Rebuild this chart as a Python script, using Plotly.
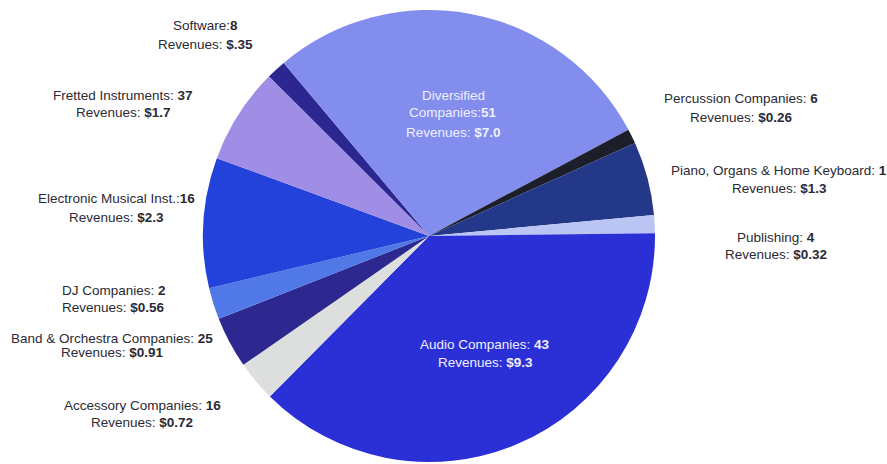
import plotly.graph_objects as go

# Music products industry: company counts and revenues ($ billions) by segment,
# listed clockwise starting from the small "Software" slice at the top-left.
segments = [
    "Software", "Diversified Companies", "Percussion Companies",
    "Piano, Organs & Home Keyboard", "Publishing", "Audio Companies",
    "Accessory Companies", "Band & Orchestra Companies", "DJ Companies",
    "Electronic Musical Inst.", "Fretted Instruments",
]
companies = [8, 51, 6, 1, 4, 43, 16, 25, 2, 16, 37]
revenues = [0.35, 7.0, 0.26, 1.3, 0.32, 9.3, 0.72, 0.91, 0.56, 2.3, 1.7]

# Text shown before the company count (wording/punctuation per segment)
count_prefix = [
    "Software:", "Diversified<br>Companies:", "Percussion Companies: ",
    "Piano, Organs & Home Keyboard: ", "Publishing: ", "Audio Companies: ",
    "Accessory Companies: ", "Band & Orchestra Companies: ", "DJ Companies: ",
    "Electronic Musical Inst.:", "Fretted Instruments: ",
]

colors = [
    "#2C2690", "#838DED", "#1C1E2A", "#233888", "#BAC5F3", "#2A2FD6",
    "#DCDFDD", "#2D2890", "#5078E6", "#2342DA", "#A08DE6",
]

W, H = 887, 464
cx, cy, r = 429, 236, 226

# Label placement: centre x and the y of each text line (pixels)
label_x = [205, 453, 741, 779, 776, 485, 142, 112, 114, 117, 123]
label_ys = [
    [26, 45], [95, 113, 132], [98, 117], [170, 188], [237, 255],
    [344, 362], [405, 422], [338, 352], [290, 307], [198, 217], [96, 112],
]
inside = {1, 5}


def money(v):
    s = f"{v:.2f}" if v < 1 else f"{v:.1f}"
    if v < 1 and len(s) > 3 and s.endswith("5"):
        s = s.lstrip("0")
    return "$" + s


fig = go.Figure(
    go.Pie(
        labels=segments,
        values=revenues,
        marker=dict(colors=colors, line=dict(width=0)),
        sort=False,
        direction="clockwise",
        rotation=-45.1,
        textinfo="none",
        hoverinfo="label+value",
        showlegend=False,
        domain=dict(x=[(cx - r) / W, (cx + r) / W],
                    y=[(H - cy - r) / H, (H - cy + r) / H]),
    )
)

annotations = []
for i, name in enumerate(segments):
    parts = count_prefix[i].split("<br>")
    lines = parts[:-1] + [f"{parts[-1]}<b>{companies[i]}</b>",
                          f"Revenues: <b>{money(revenues[i])}</b>"]
    color = "#EEF0FF" if i in inside else "#2A2A35"
    for text, y in zip(lines, label_ys[i]):
        annotations.append(dict(
            x=label_x[i] / W, y=1 - y / H, xref="paper", yref="paper",
            text=text, showarrow=False, xanchor="center", yanchor="middle",
            font=dict(family="Liberation Sans, Arial, sans-serif",
                      size=13.5, color=color),
        ))

fig.update_layout(
    width=W, height=H,
    margin=dict(l=0, r=0, t=0, b=0),
    paper_bgcolor="white",
    plot_bgcolor="white",
    annotations=annotations,
)

fig.write_html("out.html")
